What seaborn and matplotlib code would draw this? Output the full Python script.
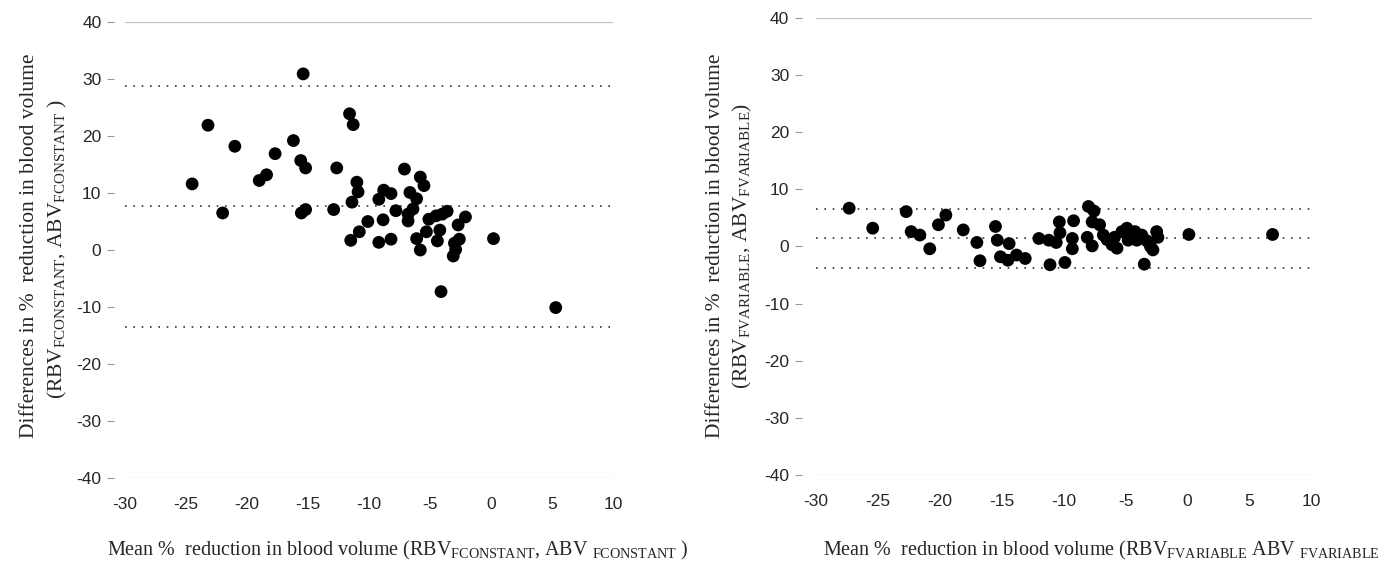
import numpy as np
import pandas as pd
import matplotlib
matplotlib.use("Agg")
import matplotlib.pyplot as plt
import seaborn as sns

# left panel: F constant (mean vs difference)
x_const = [-15.4, -23.2, -11.6, -11.3, -21.0, -16.2, -17.7, -15.6, -15.2, -12.65,
           -24.5, -18.4, -19.0, -22.0, -15.55, -15.2, -12.9, -11.0, -10.9, -11.4,
           -7.1, -5.8, -5.5, -8.8, -8.2, -9.2, -6.65, -6.1, -7.8, -6.4,
           -6.8, -6.8, -10.1, -8.85, -10.8, -11.5, -9.2, -8.2, -5.1, -4.5,
           -3.6, -2.1, -2.7, -5.3, -4.2, -6.1, -4.4, -5.8, -2.6, -3.0,
           -2.9, -3.1, 0.2, -4.1, 5.3, -4.0]
y_const = [30.9, 21.9, 23.9, 22.0, 18.2, 19.2, 16.9, 15.7, 14.4, 14.4,
           11.6, 13.2, 12.2, 6.5, 6.5, 7.1, 7.1, 11.9, 10.2, 8.4,
           14.2, 12.8, 11.3, 10.5, 9.9, 8.9, 10.1, 9.0, 6.9, 7.2,
           6.3, 5.1, 5.0, 5.3, 3.2, 1.7, 1.35, 1.9, 5.4, 6.0,
           6.8, 5.8, 4.4, 3.2, 3.5, 2.0, 1.6, 0.0, 1.9, 1.2,
           0.1, -1.05, 2.0, -7.3, -10.1, 6.3]
lines_const = [28.8, 7.7, -13.5]

# right panel: F variable
x_var = [-27.3, -25.4, -22.7, -22.3, -21.6, -20.8, -20.1, -19.5, -18.1, -17.0,
         -16.75, -15.5, -15.35, -14.4, -15.1, -14.5, -13.8, -13.1, -12.0, -11.2,
         -10.6, -11.1, -9.9, -10.35, -9.2, -10.3, -9.3, -9.3, -8.0, -7.55,
         -7.7, -8.1, -7.7, -7.1, -6.8, -5.9, -4.9, -4.25, -5.7, -4.8,
         -4.1, -3.7, -3.0, -2.8, -2.5, -2.4, -3.5, 0.1, 6.85, -5.3,
         -6.1, -6.5, -4.5, -3.3]
y_var = [6.7, 3.2, 6.1, 2.6, 2.0, -0.4, 3.8, 5.5, 2.9, 0.7,
         -2.5, 3.5, 1.1, 0.5, -1.8, -2.4, -1.5, -2.1, 1.4, 1.1,
         0.7, -3.2, -2.8, 4.3, 4.5, 2.4, 1.4, -0.4, 7.0, 6.2,
         4.3, 1.6, 0.1, 3.8, 2.0, 1.6, 3.2, 2.6, -0.3, 1.1,
         1.1, 2.0, 0.0, -0.6, 2.6, 1.6, -3.1, 2.1, 2.1, 2.6,
         0.3, 1.2, 1.8, 1.0]
lines_var = [6.6, 1.4, -3.7]

x_ticks = list(range(-30, 11, 5))
y_ticks = list(range(-40, 41, 10))

sns.set_style("white")
plt.rcParams["font.family"] = ["Liberation Sans", "DejaVu Sans"]
plt.rcParams["axes.unicode_minus"] = False
plt.rcParams["mathtext.fontset"] = "custom"
plt.rcParams["mathtext.rm"] = "Liberation Serif"
plt.rcParams["mathtext.it"] = "Liberation Serif:italic"

fig = plt.figure(figsize=(13.83, 5.72), dpi=100)
ax1 = fig.add_axes([0.0904, 0.1643, 0.3529, 0.7972])
ax2 = fig.add_axes([0.5898, 0.1696, 0.3586, 0.7990])

panels = [(ax1, x_const, y_const, lines_const, 8),
          (ax2, x_var, y_var, lines_var, 10)]

for ax, xs, ys, lims, off in panels:
    df = pd.DataFrame({"mean": xs, "diff": ys})
    for v in lims:
        ax.axhline(v, color="#333333", lw=1.2, linestyle=(0, (1, 4)), zorder=1)
    ax.axhline(40, color="#c0c0c0", lw=0.9, zorder=1)
    ax.axhline(-40, color="#c0c0c0", lw=0.9, zorder=1)
    sns.scatterplot(data=df, x="mean", y="diff", ax=ax, color="black",
                    s=85, edgecolor="none", zorder=3, clip_on=False)
    ax.set_xlim(-30, 10)
    ax.set_ylim(-40, 40)
    ax.set_xticks(x_ticks)
    ax.set_yticks(y_ticks)
    ax.set_xlabel("")
    ax.set_ylabel("")
    for s in ax.spines.values():
        s.set_visible(False)
    ax.spines["left"].set_position(("outward", off))
    ax.tick_params(axis="x", length=0, pad=14, labelsize=12.5)
    ax.tick_params(axis="y", length=5, width=0.8, color="#999999",
                   pad=4, labelsize=12.5, left=True)

serif = ["Liberation Serif", "DejaVu Serif"]

fig.text(30 / 1383, 0.57, "Differences in %  reduction in blood volume",
         rotation=90, ha="center", va="center", fontsize=15.5, family=serif)
fig.text(57 / 1383, 0.565,
         r"(RBV$_{\mathrm{FCONSTANT}}$, ABV$_{\mathrm{FCONSTANT}}$ )",
         rotation=90, ha="center", va="center", fontsize=15.5, family=serif)
fig.text(716 / 1383, 0.57, "Differences in %  reduction in blood volume",
         rotation=90, ha="center", va="center", fontsize=15.5, family=serif)
fig.text(742 / 1383, 0.57,
         r"(RBV$_{\mathrm{FVARIABLE}}$, ABV$_{\mathrm{FVARIABLE}}$)",
         rotation=90, ha="center", va="center", fontsize=15.5, family=serif)

fig.text(107 / 1383, 1 - 550 / 572,
         r"Mean %  reduction in blood volume (RBV$_{\mathrm{FCONSTANT}}$, ABV $_{\mathrm{FCONSTANT}}$ )",
         ha="left", va="center", fontsize=14.5, family=serif)
fig.text(823 / 1383, 1 - 550 / 572,
         r"Mean %  reduction in blood volume (RBV$_{\mathrm{FVARIABLE}}$ ABV $_{\mathrm{FVARIABLE}}$",
         ha="left", va="center", fontsize=14.5, family=serif)

fig.savefig("out.png", dpi=100, facecolor="white")
